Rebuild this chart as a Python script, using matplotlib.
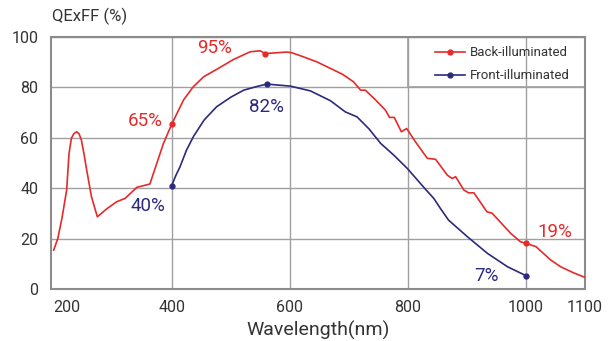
import matplotlib
matplotlib.use("Agg")
import matplotlib.pyplot as plt
from matplotlib.patches import Rectangle

plt.rcParams['font.family'] = ['Roboto', 'DejaVu Sans']

# Back-illuminated QE curve
back_x = [200, 207, 214, 222, 226, 230, 234, 239, 243, 247, 251, 256, 264, 274, 290,
          307, 321, 341, 363, 386, 400, 420, 436, 454, 476, 505, 533, 550, 558, 595,
          604, 623, 646, 669, 690, 708, 720, 728, 745, 762, 769, 777, 789, 798, 813,
          833, 847, 867, 875, 881, 895, 903, 912, 934, 943, 974, 991, 1000, 1017, 1042,
          1059, 1080, 1100]
back_y = [15.4, 20, 28, 39.2, 53.7, 59.7, 61.5, 62.3, 61.5, 59, 54, 47.1, 36.6, 28.6, 31.8,
          34.6, 35.9, 40.3, 41.6, 57.7, 65.3, 74.9, 80, 84.1, 87, 91, 94, 94.4, 93.3, 93.9,
          93.6, 92, 90, 87.4, 85, 82.1, 78.8, 78.8, 75, 70.9, 68, 68, 62.3, 63.6, 58.3,
          51.8, 51.4, 45.1, 43.8, 44.5, 39.2, 38.1, 38.1, 30.6, 30, 22.1, 18.7, 18.1, 16.8, 11.5,
          8.8, 6.5, 4.6]
back_marks = [20, 28, 57]

# Front-illuminated QE curve
front_x = [400, 407, 414, 425, 437, 455, 476, 500, 522, 545, 561, 601, 635, 669, 694,
           714, 734, 754, 776, 799, 830, 844, 855, 869, 885, 901, 935, 969, 1000]
front_y = [41, 45, 48.4, 55, 60.5, 67, 72.2, 76, 78.8, 80.3, 81.2, 80.4, 78.5, 74.6, 70.2,
           68.2, 63.5, 57.7, 53.1, 47.8, 39.5, 35.9, 32, 27.3, 24, 20.7, 14.1, 8.8, 5.3]
front_marks = [0, 10, 28]

back_labels = ['65%', '95%', '19%']
front_labels = ['40%', '82%', '7%']

xticks = [200, 400, 600, 800, 1000, 1100]
yticks = [0, 20, 40, 60, 80, 100]

red = '#e62a2a'
navy = '#2b2a7c'
grid_c = '#a0a0a0'
txt_c = '#333333'

fig = plt.figure(figsize=(6.14, 3.41), dpi=100)
ax = fig.add_axes([0.0826, 0.1525, 0.870, 0.740])

ax.plot(back_x, back_y, color=red, lw=1.2, marker='o', ms=3.5,
        markevery=back_marks, label='Back-illuminated', zorder=3)
ax.plot(front_x, front_y, color=navy, lw=1.2, marker='o', ms=3.5,
        markevery=front_marks, label='Front-illuminated', zorder=3)

# value labels
back_pos = [(355, 66.7), (473, 95.6), (1049, 22.5)]
front_pos = [(359, 32.9), (561, 72), (933, 5.1)]
for t, (x, y) in zip(back_labels, back_pos):
    ax.text(x, y, t, color=red, fontsize=13.5, ha='center', va='center')
for t, (x, y) in zip(front_labels, front_pos):
    ax.text(x, y, t, color=navy, fontsize=13.5, ha='center', va='center')

ax.set_xlim(195, 1100)
ax.set_ylim(0, 100)
ax.set_xticks(xticks)
ax.set_yticks(yticks)
ax.set_xticklabels([str(v) for v in xticks])
ax.get_xticklabels()[0].set_ha('left')
ax.tick_params(length=0, labelsize=11.5, labelcolor=txt_c)
ax.tick_params(axis='y', pad=9)
ax.tick_params(axis='x', pad=8)
ax.grid(True, color=grid_c, lw=1.0, zorder=0)
ax.get_xgridlines()[0].set_visible(False)
for s in ax.spines.values():
    s.set_color('#8c8c8c')
    s.set_linewidth(1.5)

# legend box
ax.add_patch(Rectangle((800, 80), 300, 20, facecolor='white', edgecolor=grid_c,
                       lw=1.2, zorder=1))
ax.legend(loc='center', bbox_to_anchor=(960, 89), bbox_transform=ax.transData,
          frameon=False, fontsize=9.5, handlelength=2.3, handletextpad=0.4,
          labelspacing=0.75, borderpad=0, labelcolor=txt_c, numpoints=1)

ax.set_xlabel('Wavelength(nm)', fontsize=14, color=txt_c, labelpad=4)
fig.text(0.084, 0.951, 'QExFF (%)', fontsize=12, color=txt_c, ha='left', va='center')

fig.savefig('out.png', dpi=100)
